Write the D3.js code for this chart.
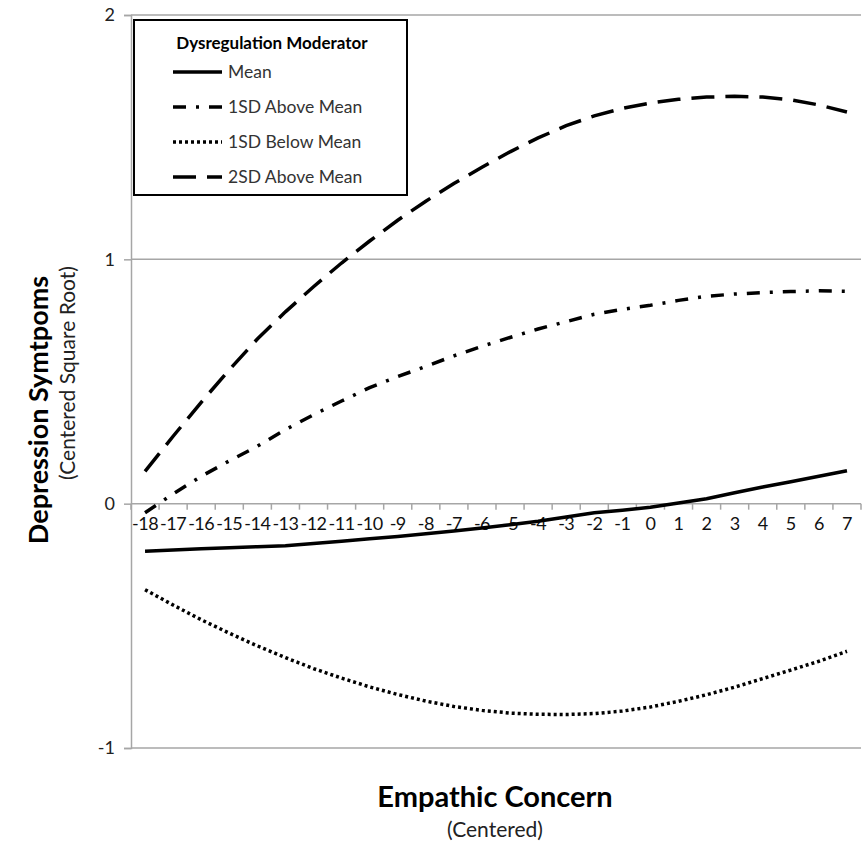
<!DOCTYPE html>
<html>
<head>
<meta charset="utf-8">
<script src="https://cdn.jsdelivr.net/npm/d3@7"></script>
<style>
  body { margin: 0; background: #fff; }
  svg { font-family: Lato, "Open Sans", sans-serif; }
</style>
</head>
<body>
<div id="chart"></div>
<script>
// empathic concern (centered), categories on the x axis
var categories = [-18,-17,-16,-15,-14,-13,-12,-11,-10,-9,-8,-7,-6,-5,-4,-3,-2,-1,0,1,2,3,4,5,6,7]

var meanVals = [-0.195,-0.190,-0.185,-0.180,-0.176,-0.172,-0.163,-0.154,-0.144,-0.134,-0.123,-0.112,-0.100,
    -0.086,-0.072,-0.055,-0.037,-0.027,-0.015,0.003,0.020,0.045,0.068,0.090,0.112,0.135]
var above1Vals = [-0.037,0.040,0.112,0.175,0.235,0.303,0.364,0.420,0.475,0.520,0.562,0.605,0.644,
    0.680,0.715,0.745,0.775,0.795,0.812,0.832,0.849,0.858,0.864,0.868,0.871,0.869]
var below1Vals = [-0.352,-0.415,-0.475,-0.530,-0.582,-0.630,-0.675,-0.714,-0.750,-0.781,-0.808,-0.830,-0.846,
    -0.857,-0.862,-0.863,-0.859,-0.849,-0.832,-0.809,-0.782,-0.751,-0.716,-0.681,-0.645,-0.604]
var above2Vals = [0.132,0.276,0.415,0.548,0.674,0.785,0.888,0.985,1.075,1.160,1.238,1.310,1.377,
    1.440,1.497,1.547,1.587,1.618,1.640,1.655,1.664,1.667,1.664,1.653,1.632,1.603]

var yTicks = [-1, 0, 1, 2]

var seriesNames = ["Mean", "1SD Above Mean", "1SD Below Mean", "2SD Above Mean"]
var seriesDash = ["none", "13,10,3,10", "3,3", "23,11"]
var seriesVals = [meanVals, above1Vals, below1Vals, above2Vals]

var width = 867, height = 853
// note: "top" is taken by window.top, so plot edges get their own names
var plotLeft = 131, plotRight = 861, plotTop = 15, plotBottom = 748

var svg = d3.select("#chart").append("svg")
    .attr("width", width)
    .attr("height", height)

var x = d3.scaleBand().domain(categories).range([plotLeft, plotRight]).padding(0)
var y = d3.scaleLinear().domain([-1, 2]).range([plotBottom, plotTop])
var cx = function (c) { return x(c) + x.bandwidth() / 2 }

// gridlines
svg.append("g")
    .selectAll("line")
    .data(yTicks)
    .enter().append("line")
    .attr("x1", plotLeft)
    .attr("x2", plotRight)
    .attr("y1", function (d) { return y(d) })
    .attr("y2", function (d) { return y(d) })
    .attr("stroke", "#a6a6a6")
    .attr("stroke-width", 1.5)

// y axis (plain hyphen for negatives, like the original)
var yAxis = svg.append("g")
    .attr("transform", "translate(" + plotLeft + ",0)")
    .call(d3.axisLeft(y).tickValues(yTicks).tickSize(7).tickPadding(9).tickFormat(function (d) { return String(d) }))
yAxis.select(".domain").attr("stroke", "#a6a6a6").attr("stroke-width", 1.5)
yAxis.selectAll(".tick line").attr("stroke", "#a6a6a6").attr("stroke-width", 1.5)
yAxis.selectAll(".tick text")
    .attr("font-size", 18)
    .attr("font-family", "Lato, sans-serif")
    .attr("fill", "#222")

// x axis sits on the zero line, ticks between categories
var zeroY = y(0)
svg.append("g")
    .selectAll("line")
    .data(d3.range(categories.length + 1))
    .enter().append("line")
    .attr("x1", function (i) { return plotLeft + i * x.step() })
    .attr("x2", function (i) { return plotLeft + i * x.step() })
    .attr("y1", zeroY)
    .attr("y2", zeroY + 6)
    .attr("stroke", "#a6a6a6")
    .attr("stroke-width", 1.5)

var xAxis = svg.append("g")
    .attr("transform", "translate(0," + zeroY + ")")
    .call(d3.axisBottom(x).tickSize(0).tickPadding(14))
xAxis.select(".domain").remove()
xAxis.selectAll(".tick text")
    .attr("font-size", 18)
    .attr("font-family", "Lato, sans-serif")
    .attr("letter-spacing", -0.5)
    .attr("fill", "#111")

// series lines
var line = d3.line()
    .x(function (d, i) { return cx(categories[i]) })
    .y(function (d) { return y(d) })

svg.append("g")
    .selectAll("path")
    .data(seriesVals)
    .enter().append("path")
    .attr("d", line)
    .attr("fill", "none")
    .attr("stroke", "#000")
    .attr("stroke-width", 3.5)
    .attr("stroke-dasharray", function (d, i) { return seriesDash[i] })

// legend
var lg = svg.append("g")
lg.append("rect")
    .attr("x", 134).attr("y", 20)
    .attr("width", 273).attr("height", 175)
    .attr("fill", "#fff")
    .attr("stroke", "#000")
    .attr("stroke-width", 2)
lg.append("text")
    .attr("x", 272).attr("y", 49)
    .attr("text-anchor", "middle")
    .attr("font-size", 17)
    .attr("font-weight", "bold")
    .attr("fill", "#000")
    .text("Dysregulation Moderator")

var items = lg.selectAll(".item")
    .data(seriesNames)
    .enter().append("g")
    .attr("class", "item")
    .attr("transform", function (d, i) { return "translate(0," + (72 + i * 35) + ")" })
items.append("line")
    .attr("x1", 173).attr("x2", 222)
    .attr("stroke", "#000")
    .attr("stroke-width", 3.5)
    .attr("stroke-dasharray", function (d, i) { return seriesDash[i] })
items.append("text")
    .attr("x", 228).attr("y", 6)
    .attr("font-size", 17.5)
    .attr("fill", "#333")
    .text(function (d) { return d })

// axis titles
svg.append("text")
    .attr("x", 495).attr("y", 807)
    .attr("text-anchor", "middle")
    .attr("font-size", 29)
    .attr("font-weight", "bold")
    .attr("fill", "#000")
    .text("Empathic Concern")
svg.append("text")
    .attr("x", 495).attr("y", 837)
    .attr("text-anchor", "middle")
    .attr("font-size", 21)
    .attr("fill", "#222")
    .text("(Centered)")

svg.append("text")
    .attr("transform", "translate(48,410) rotate(-90)")
    .attr("text-anchor", "middle")
    .attr("font-size", 27)
    .attr("font-weight", "bold")
    .attr("fill", "#000")
    .text("Depression Symtpoms")
svg.append("text")
    .attr("transform", "translate(75,373) rotate(-90)")
    .attr("text-anchor", "middle")
    .attr("font-size", 21)
    .attr("fill", "#222")
    .text("(Centered Square Root)")
</script>
</body>
</html>
